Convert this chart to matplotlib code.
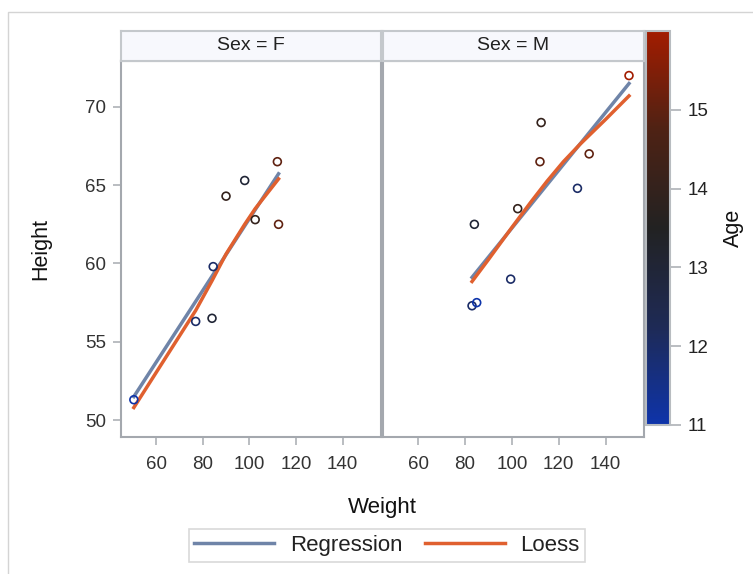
import matplotlib
matplotlib.use("Agg")
import matplotlib.pyplot as plt
import numpy as np
from matplotlib.cm import ScalarMappable
from matplotlib.colors import LinearSegmentedColormap, Normalize
from matplotlib.lines import Line2D
from matplotlib.patches import Rectangle

plt.rcParams["font.family"] = ["Liberation Sans", "DejaVu Sans"]

# sashelp.class
f_weight = [84.0, 98.0, 102.5, 84.5, 112.5, 50.5, 90.0, 77.0, 112.0]
f_height = [56.5, 65.3, 62.8, 59.8, 62.5, 51.3, 64.3, 56.3, 66.5]
f_age = [13, 13, 14, 12, 15, 11, 14, 12, 15]

m_weight = [112.5, 102.5, 83.0, 84.0, 99.5, 150.0, 128.0, 133.0, 85.0, 112.0]
m_height = [69.0, 63.5, 57.3, 62.5, 59.0, 72.0, 64.8, 67.0, 57.5, 66.5]
m_age = [14, 14, 12, 13, 12, 16, 12, 15, 11, 15]

# loess fits
f_loess_w = [50.5, 77.0, 84.0, 90.0, 98.0, 102.5, 112.5]
f_loess_h = [50.8, 57.0, 58.9, 60.6, 62.5, 63.5, 65.4]
m_loess_w = [83.0, 90.0, 100.0, 108.0, 115.0, 122.0, 129.0, 140.0, 150.0]
m_loess_h = [58.85, 60.25, 62.3, 63.9, 65.25, 66.5, 67.6, 69.2, 70.7]

panels = [
    ("Sex = F", f_weight, f_height, f_age, f_loess_w, f_loess_h),
    ("Sex = M", m_weight, m_height, m_age, m_loess_w, m_loess_h),
]

W, H = 753, 574
reg_color = "#6F84A8"
loess_color = "#E0602F"
frame_color = "#A4A8AE"
tick_color = "#B4B8BC"
cmap = LinearSegmentedColormap.from_list(
    "age", ["#0E34AA", "#1E2A55", "#222222", "#4E2214", "#A21C00"]
)
norm = Normalize(vmin=11, vmax=16)


def box(x0, y0, x1, y1):
    return [x0 / W, 1 - y1 / H, (x1 - x0) / W, (y1 - y0) / H]


fig = plt.figure(figsize=(W / 100, H / 100), dpi=100)
fig.add_artist(Rectangle((8 / W, -0.1), 1.2, 1 - 12 / H + 0.1,
                         transform=fig.transFigure, fill=False,
                         edgecolor="#D4D4D4", linewidth=1.0))

lefts = [(121, 381), (383, 644)]
for (x0, x1), (title, w, h, age, lw, lh) in zip(lefts, panels):
    ax = fig.add_axes(box(x0, 61, x1, 437))
    ax.scatter(w, h, marker="o", facecolors="none",
               edgecolors=cmap(norm(np.array(age))), s=32,
               linewidths=1.2, zorder=3)
    coef = np.polyfit(w, h, 1)
    xr = np.array([min(w), max(w)])
    ax.plot(xr, np.polyval(coef, xr), color=reg_color, lw=2.5, zorder=2)
    ax.plot(lw, lh, color=loess_color, lw=2.5, zorder=2)
    ax.set_xlim(45, 156.4)
    ax.set_ylim(48.92, 72.93)
    ax.set_xticks([60, 80, 100, 120, 140])
    ax.set_yticks([50, 55, 60, 65, 70])
    ax.tick_params(colors=tick_color, labelcolor="#333333", labelsize=13.5,
                   length=6, width=1.3)
    ax.tick_params(axis="x", pad=8)
    ax.tick_params(axis="y", pad=5)
    if x0 != 121:
        ax.tick_params(axis="y", left=False, labelleft=False)
    for s in ax.spines.values():
        s.set_color(frame_color)
        s.set_linewidth(1.5)

    strip = fig.add_axes(box(x0, 31, x1, 61))
    strip.set_facecolor("#F7F8FD")
    strip.set_xticks([])
    strip.set_yticks([])
    for s in strip.spines.values():
        s.set_color("#C4C8CC")
        s.set_linewidth(1.5)
    strip.text(0.5, 0.5, title, ha="center", va="center", fontsize=14,
               color="#222222", transform=strip.transAxes)

    if x0 == 121:
        ax.set_ylabel("Height", fontsize=15.5, color="#111111", labelpad=24)

fig.text(382 / W, 1 - 507 / H, "Weight", ha="center", va="center",
         fontsize=16, color="#111111")

cax = fig.add_axes(box(646, 31, 670, 425))
cb = fig.colorbar(ScalarMappable(norm=norm, cmap=cmap), cax=cax)
cb.set_ticks([11, 12, 13, 14, 15])
cb.outline.set_edgecolor("#B8BCC0")
cb.outline.set_linewidth(1.5)
cax.tick_params(colors=tick_color, labelcolor="#222222", labelsize=13.5,
                length=8, width=1.3, pad=5)
cb.set_label("Age", fontsize=15.5, color="#111111", labelpad=10)

handles = [Line2D([], [], color=reg_color, lw=2.5),
           Line2D([], [], color=loess_color, lw=2.5)]
leg = fig.legend(handles, ["Regression", "Loess"], loc="center",
                 bbox_to_anchor=(387 / W, 1 - 545.5 / H), ncol=2,
                 fontsize=16, frameon=True, fancybox=False,
                 handlelength=3.6, columnspacing=1.0, handletextpad=0.7,
                 borderpad=0.25)
leg.get_frame().set_edgecolor("#D0D0D0")
leg.get_frame().set_linewidth(1.2)
for t in leg.get_texts():
    t.set_color("#222222")

fig.savefig("out.png", dpi=100, facecolor="white")
